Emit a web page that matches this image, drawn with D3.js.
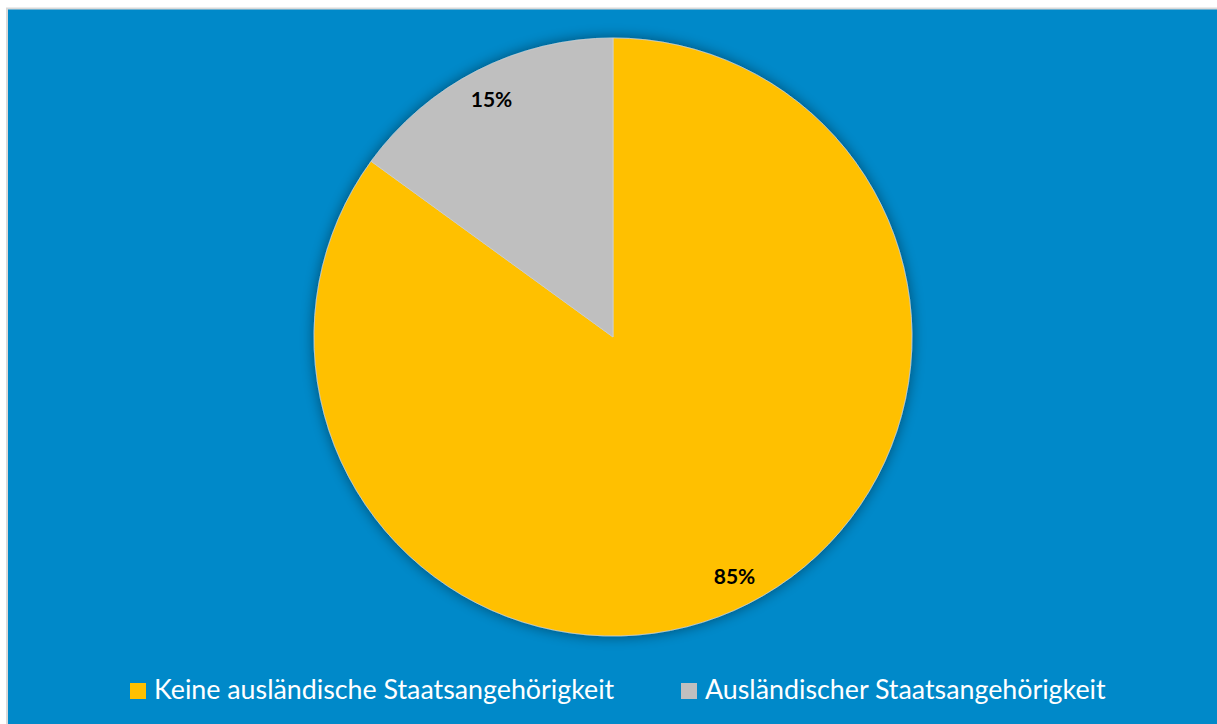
<!DOCTYPE html>
<html>
<head>
<meta charset="utf-8">
<script src="https://cdn.jsdelivr.net/npm/d3@7"></script>
<style>
  html, body { margin: 0; padding: 0; background: #ffffff; }
  svg { display: block; }
</style>
</head>
<body>
<svg id="chart" width="1217" height="724"></svg>
<script>
// Anteil der Bevölkerung nach Staatsangehörigkeit
const categories = ["Keine ausländische Staatsangehörigkeit", "Ausländischer Staatsangehörigkeit"];
const shares = [85, 15];
const labels = ["85%", "15%"];
const colors = ["#FFC000", "#BFBFBF"];

const W = 1217, H = 724;
const svg = d3.select("#chart");

// Diagrammfläche
svg.append("rect")
  .attr("x", 7).attr("y", 8.5)
  .attr("width", W).attr("height", H)
  .attr("fill", "#0089C9")
  .attr("stroke", "#D9D9D9")
  .attr("stroke-width", 2);

// Weicher Schatten unter dem Kreis
const defs = svg.append("defs");
const f = defs.append("filter").attr("id", "pieShadow")
  .attr("x", "-20%").attr("y", "-20%").attr("width", "140%").attr("height", "140%");
f.append("feGaussianBlur").attr("in", "SourceAlpha").attr("stdDeviation", 7).attr("result", "blur");
f.append("feOffset").attr("in", "blur").attr("dx", 0).attr("dy", 0).attr("result", "off");
f.append("feComponentTransfer").append("feFuncA").attr("type", "linear").attr("slope", 0.45);
const merge = f.append("feMerge");
merge.append("feMergeNode");
merge.append("feMergeNode").attr("in", "SourceGraphic");

const cx = 613, cy = 337, r = 299;

const pie = d3.pie().value(d => d).sort(null);
const arcs = pie(shares);
const arc = d3.arc().innerRadius(0).outerRadius(r);

const g = svg.append("g").attr("transform", `translate(${cx},${cy})`);

g.append("g").attr("filter", "url(#pieShadow)")
  .selectAll("path")
  .data(arcs)
  .enter().append("path")
  .attr("d", arc)
  .attr("fill", (d, i) => colors[i])
  .attr("stroke", "#D0D0D0")
  .attr("stroke-width", 0.8);

// Prozentbeschriftungen innerhalb der Segmente
const labelArc = d3.arc().innerRadius(r * 0.895).outerRadius(r * 0.895);
g.selectAll("text.pct")
  .data(arcs)
  .enter().append("text")
  .attr("class", "pct")
  .attr("transform", d => `translate(${labelArc.centroid(d)})`)
  .attr("text-anchor", "middle")
  .attr("dominant-baseline", "central")
  .attr("font-family", "Lato, 'Open Sans', sans-serif")
  .attr("font-weight", "bold")
  .attr("font-size", 21)
  .attr("fill", "#000000")
  .text((d, i) => labels[i]);

// Legende
const legendItems = [
  { x: 130 },
  { x: 681 }
];
const lg = svg.append("g");
const items = lg.selectAll("g.item")
  .data(categories)
  .enter().append("g")
  .attr("class", "item")
  .attr("transform", (d, i) => `translate(${legendItems[i].x},683)`);
items.append("rect")
  .attr("width", 16).attr("height", 16)
  .attr("fill", (d, i) => colors[i]);
items.append("text")
  .attr("x", 24).attr("y", 16)
  .attr("font-family", "Lato, 'Open Sans', sans-serif")
  .attr("font-size", 26.8)
  .attr("fill", "#FFFFFF")
  .text(d => d);
</script>
</body>
</html>
